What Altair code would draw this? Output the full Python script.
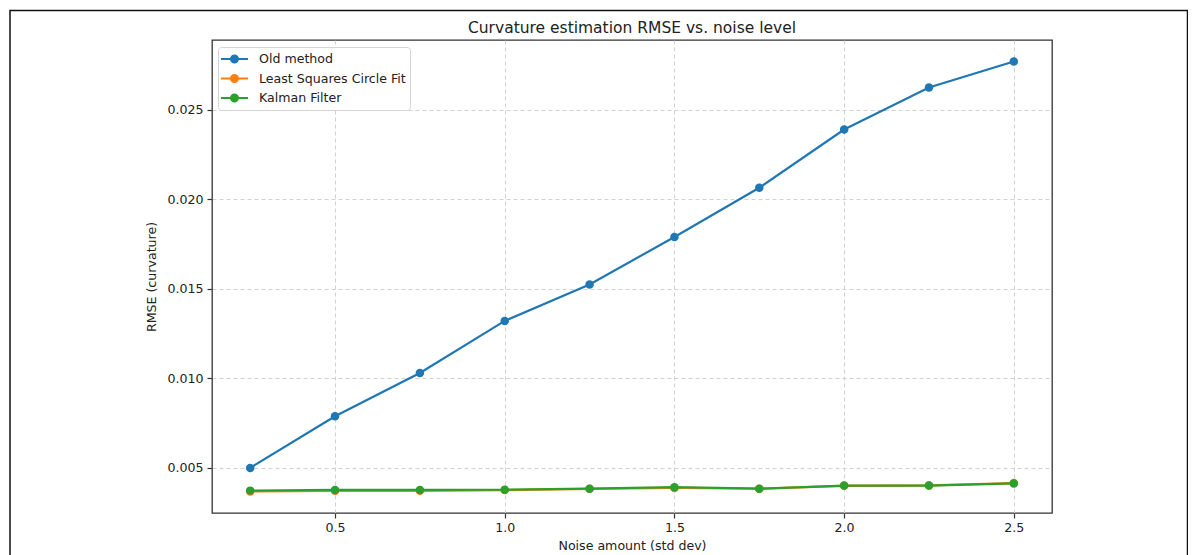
import altair as alt
import pandas as pd

noise = [0.25, 0.5, 0.75, 1.0, 1.25, 1.5, 1.75, 2.0, 2.25, 2.5]
old_method = [0.00500, 0.00788, 0.01030, 0.01321, 0.01524, 0.01790, 0.02065, 0.02390, 0.02625, 0.02770]
least_squares = [0.00368, 0.00372, 0.00372, 0.00376, 0.00383, 0.00388, 0.00384, 0.00400, 0.00402, 0.00415]
kalman = [0.00373, 0.00377, 0.00377, 0.00378, 0.00384, 0.00392, 0.00384, 0.00401, 0.00401, 0.00413]

series_names = ["Old method", "Least Squares Circle Fit", "Kalman Filter"]
series_colors = ["#1f77b4", "#ff7f0e", "#2ca02c"]
x_ticks = [0.5, 1.0, 1.5, 2.0, 2.5]
y_ticks = [0.005, 0.010, 0.015, 0.020, 0.025]

rows = []
for name, vals in zip(series_names, [old_method, least_squares, kalman]):
    for xv, yv in zip(noise, vals):
        rows.append({"noise": xv, "rmse": yv, "method": name})
df = pd.DataFrame(rows)

FONT = "DejaVu Sans"
TXT = "#222222"

# legend glyph: short line with a filled marker (concentric rings), shifted right
legend_path = (
    "M-1.29,0L2.57,0 "
    "M0.14,0A0.5,0.5 0 1,1 1.14,0A0.5,0.5 0 1,1 0.14,0 "
    "M0.43,0A0.21,0.21 0 1,1 0.85,0A0.21,0.21 0 1,1 0.43,0"
)

color_scale = alt.Scale(domain=series_names, range=series_colors)
x_enc = alt.X(
    "noise:Q",
    scale=alt.Scale(domain=[0.1375, 2.6125], nice=False, zero=False),
    axis=alt.Axis(values=x_ticks, format=".1f", title="Noise amount (std dev)"),
)
y_enc = alt.Y(
    "rmse:Q",
    scale=alt.Scale(domain=[0.00248, 0.0289], nice=False, zero=False),
    axis=alt.Axis(values=y_ticks, format=".3f", title="RMSE (curvature)"),
)

legend = alt.Legend(
    title=None,
    orient="none",
    legendX=6,
    legendY=7,
    symbolType=legend_path,
    symbolSize=196,
    symbolStrokeWidth=2,
    labelOffset=21,
    padding=4,
    rowPadding=3.5,
    labelFont=FONT,
    labelFontSize=12.6,
    labelColor=TXT,
    fillColor="white",
    strokeColor="#d5d5d5",
    cornerRadius=3,
)

frame = alt.Chart(pd.DataFrame({"k": [0]})).mark_rect(
    filled=False, stroke="#111111", strokeWidth=1.5
).encode(
    x=alt.value(-202), x2=alt.value(975.5), y=alt.value(-29.5), y2=alt.value(560)
)

layers = [frame]
for name in series_names:
    layers.append(
        alt.Chart(df)
        .transform_filter(alt.datum.method == name)
        .mark_line(
            strokeWidth=2.2,
            point=alt.OverlayMarkDef(filled=True, size=72, opacity=1),
        )
        .encode(
            x=x_enc,
            y=y_enc,
            color=alt.Color("method:N", scale=color_scale, legend=legend),
        )
    )

chart = (
    alt.layer(*layers)
    .properties(
        width=840,
        height=473,
        autosize=alt.AutoSizeParams(type="none"),
        padding={"left": 204, "top": 32, "right": 136, "bottom": 44},
        title=alt.TitleParams(
            "Curvature estimation RMSE vs. noise level",
            font=FONT,
            fontSize=15.5,
            fontWeight="normal",
            color=TXT,
            anchor="middle",
            frame="group",
            offset=0,
            dy=27,
        ),
    )
    .configure(background="white")
    .configure_view(stroke="#333333", strokeWidth=1.3)
    .configure_axis(
        labelFont=FONT,
        labelFontSize=12.6,
        labelColor=TXT,
        titleFont=FONT,
        titleFontSize=12.6,
        titleFontWeight="normal",
        titleColor=TXT,
        domain=False,
        tickColor="#333333",
        tickSize=5,
        tickWidth=1.2,
        grid=True,
        gridColor="#cccccc",
        gridDash=[4, 3],
        gridWidth=1,
        gridOpacity=0.9,
    )
    .configure_axisX(labelPadding=3, titlePadding=6)
    .configure_axisY(labelPadding=4, titlePadding=8)
)

chart.save("out.html", embed_options={"renderer": "svg", "actions": False})
